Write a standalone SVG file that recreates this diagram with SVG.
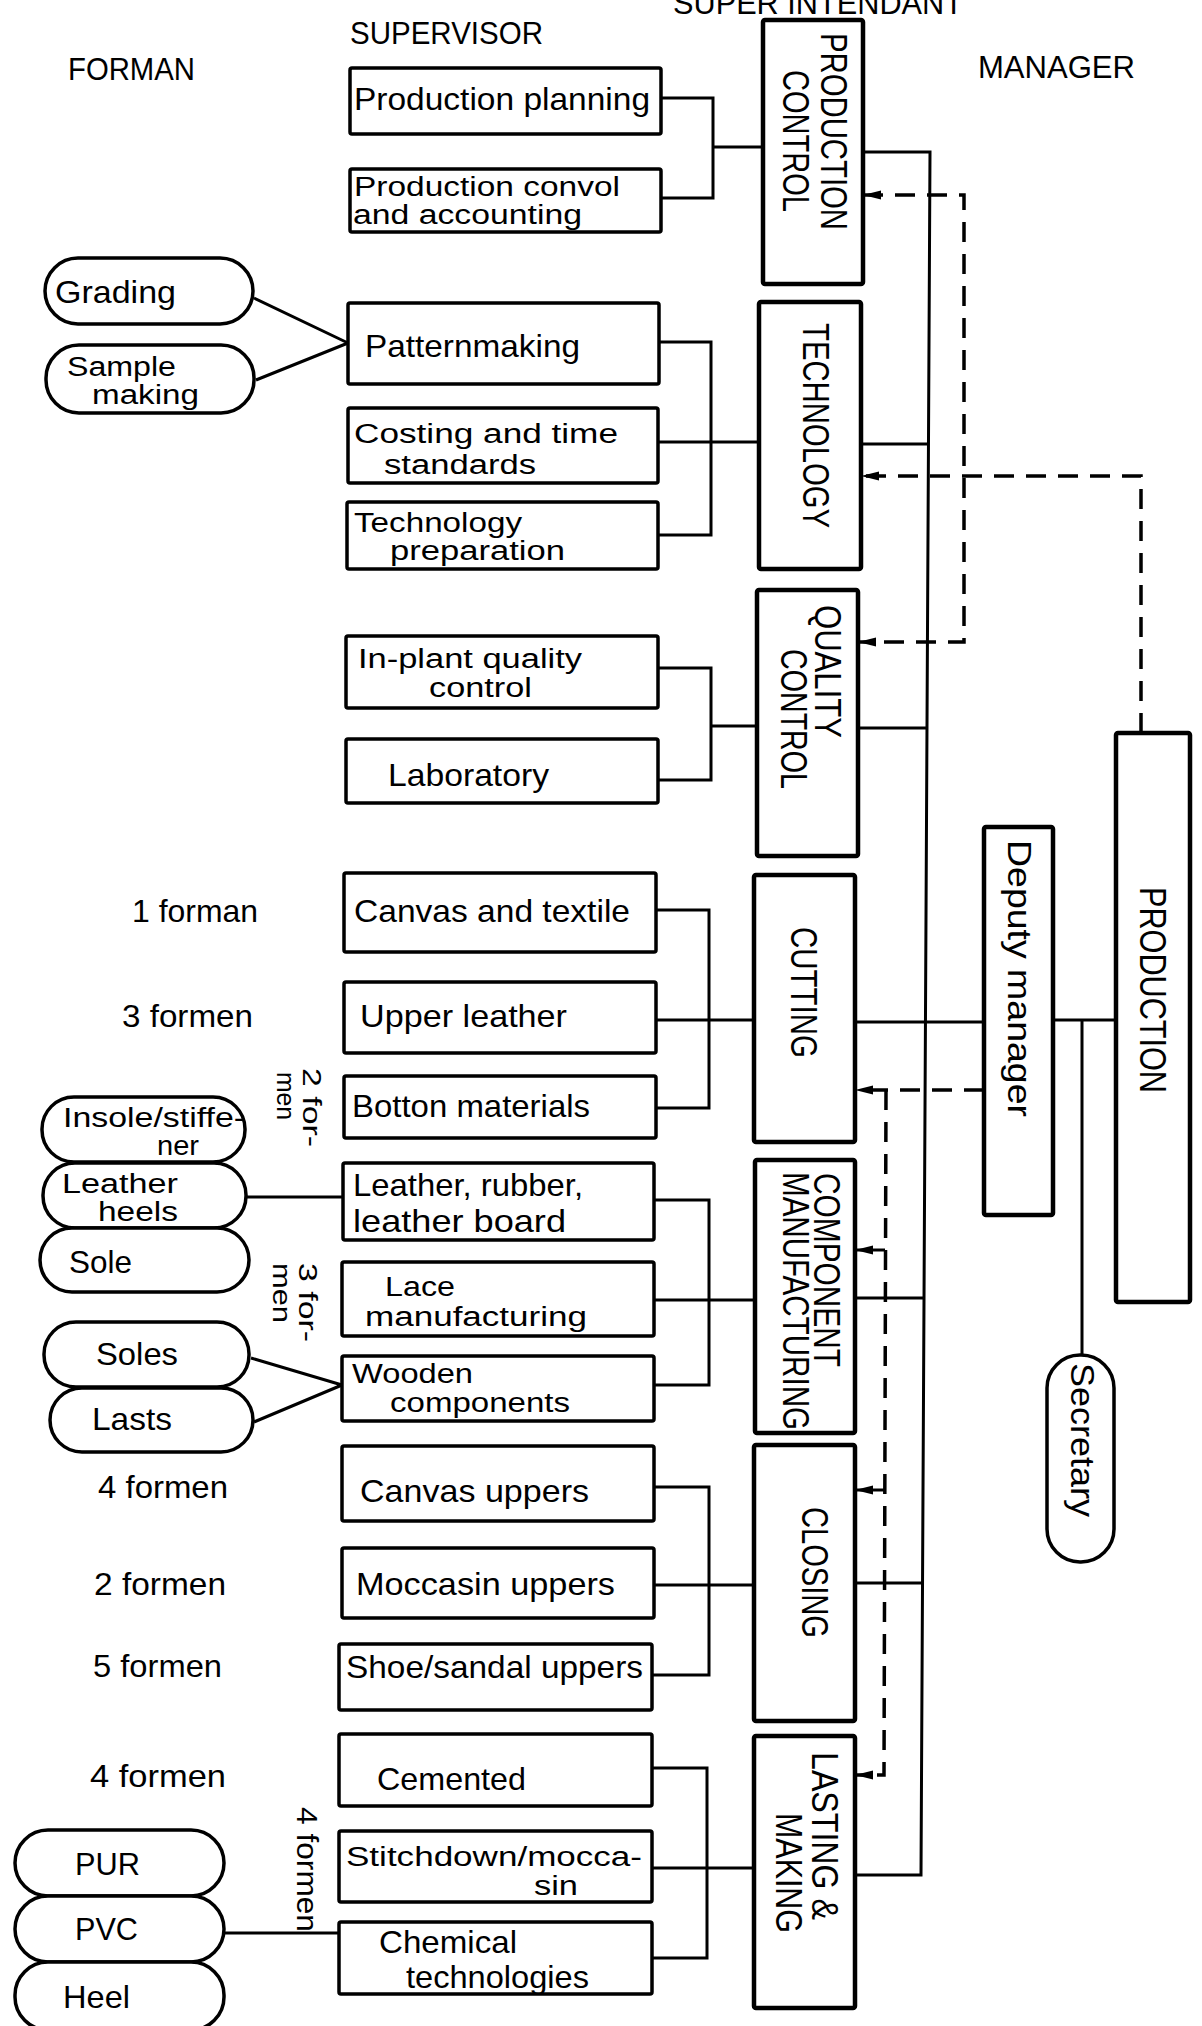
<svg xmlns="http://www.w3.org/2000/svg" width="1202" height="2026" viewBox="0 0 1202 2026">
<defs>
<style>
text{font-family:"Liberation Sans",Arial,sans-serif;fill:#000}
.t{font-size:32px}
.t2{font-size:27px}
.h{font-size:31px}
.r{font-size:36px}
.rs{font-size:25px}
.box{fill:#fff;stroke:#000;stroke-width:3.5}
.big{fill:#fff;stroke:#000;stroke-width:4.5}
.pill{fill:#fff;stroke:#000;stroke-width:3.5}
.ln{fill:none;stroke:#000;stroke-width:3}
.dash{fill:none;stroke:#000;stroke-width:3.5;stroke-dasharray:20 12}
</style>
<marker id="arr" markerUnits="userSpaceOnUse" markerWidth="18" markerHeight="12" refX="0" refY="6" orient="0" viewBox="0 0 18 12"><path d="M0,6 L18,1.5 L18,10.5 Z" fill="#000"/></marker>
</defs>
<rect width="1202" height="2026" fill="#fff"/>

<g id="headers">
<text class="h" x="68" y="80" textLength="127" lengthAdjust="spacingAndGlyphs">FORMAN</text>
<text class="h" x="350" y="44" textLength="193" lengthAdjust="spacingAndGlyphs">SUPERVISOR</text>
<text class="h" x="673" y="14" textLength="290" lengthAdjust="spacingAndGlyphs">SUPER INTENDANT</text>
<text class="h" x="978" y="78" textLength="157" lengthAdjust="spacingAndGlyphs">MANAGER</text>
</g>

<g id="connectors">
<path class="ln" d="M661 98 H713 V198 H661 M713 147 H763"/>
<path class="ln" d="M659 342 H711 V535 H658 M658 442 H759"/>
<path class="ln" d="M658 668 H711 V780 H658 M711 726 H757"/>
<path class="ln" d="M656 910 H709 V1108 H656 M656 1020 H754"/>
<path class="ln" d="M654 1200 H709 V1385 H654 M654 1300 H755"/>
<path class="ln" d="M654 1487 H709 V1675 H652 M654 1585 H754"/>
<path class="ln" d="M652 1768 H707 V1958 H652 M652 1868 H754"/>
<path class="ln" d="M254 298 L348 343 M256 380 L348 343"/>
<path class="ln" d="M246 1197 H343"/>
<path class="ln" d="M251 1358 L342 1385 M254 1422 L342 1385"/>
<path class="ln" d="M224 1933 H339"/>
<path class="ln" d="M863 152 H930 L921 1875 H855"/>
<path class="ln" d="M861 444 H928.5"/>
<path class="ln" d="M858 728 H927"/>
<path class="ln" d="M855 1022 H984"/>
<path class="ln" d="M855 1298 H924"/>
<path class="ln" d="M855 1583 H922.5"/>
<path class="ln" d="M1053 1020 H1116 M1082 1020 V1355"/>
<path class="dash" d="M863 195 H964 V642 H858" marker-start="url(#arr)" marker-end="url(#arr)"/>
<path class="dash" d="M1141 733 V476 H861" marker-end="url(#arr)"/>
<path class="dash" d="M984 1090 H855" marker-end="url(#arr)"/>
<path class="dash" d="M886 1090 L884 1775 H855" marker-end="url(#arr)"/>
<path class="ln" d="M885 1250 H855" marker-end="url(#arr)"/>
<path class="ln" d="M885 1490 H855" marker-end="url(#arr)"/>
</g>

<g id="prod-planning"><rect class="box" x="350" y="68" width="311" height="66" rx="2"/><text class="t" x="354" y="110" textLength="296" lengthAdjust="spacingAndGlyphs">Production planning</text></g>
<g id="prod-convol"><rect class="box" x="350" y="169" width="311" height="63" rx="2"/><text class="t2" x="354" y="196" textLength="266" lengthAdjust="spacingAndGlyphs">Production convol</text><text class="t2" x="353" y="224" textLength="229" lengthAdjust="spacingAndGlyphs">and accounting</text></g>
<g id="patternmaking"><rect class="box" x="348" y="303" width="311" height="81" rx="2"/><text class="t" x="365" y="357" textLength="215" lengthAdjust="spacingAndGlyphs">Patternmaking</text></g>
<g id="costing"><rect class="box" x="348" y="408" width="310" height="75" rx="2"/><text class="t2" x="354" y="443" textLength="264" lengthAdjust="spacingAndGlyphs">Costing and time</text><text class="t2" x="384" y="474" textLength="152" lengthAdjust="spacingAndGlyphs">standards</text></g>
<g id="tech-prep"><rect class="box" x="347" y="502" width="311" height="67" rx="2"/><text class="t2" x="354" y="532" textLength="168" lengthAdjust="spacingAndGlyphs">Technology</text><text class="t2" x="390" y="560" textLength="175" lengthAdjust="spacingAndGlyphs">preparation</text></g>
<g id="inplant"><rect class="box" x="346" y="636" width="312" height="72" rx="2"/><text class="t2" x="358" y="668" textLength="224" lengthAdjust="spacingAndGlyphs">In-plant quality</text><text class="t2" x="429" y="697" textLength="103" lengthAdjust="spacingAndGlyphs">control</text></g>
<g id="laboratory"><rect class="box" x="346" y="739" width="312" height="64" rx="2"/><text class="t" x="388" y="786" textLength="161" lengthAdjust="spacingAndGlyphs">Laboratory</text></g>
<g id="canvas-textile"><rect class="box" x="344" y="873" width="312" height="79" rx="2"/><text class="t" x="354" y="922" textLength="276" lengthAdjust="spacingAndGlyphs">Canvas and textile</text></g>
<g id="upper-leather"><rect class="box" x="344" y="982" width="312" height="71" rx="2"/><text class="t" x="360" y="1027" textLength="207" lengthAdjust="spacingAndGlyphs">Upper leather</text></g>
<g id="botton"><rect class="box" x="344" y="1076" width="312" height="62" rx="2"/><text class="t" x="352" y="1117" textLength="238" lengthAdjust="spacingAndGlyphs">Botton materials</text></g>
<g id="leather-rubber"><rect class="box" x="343" y="1163" width="311" height="77" rx="2"/><text class="t" x="353" y="1196" textLength="230" lengthAdjust="spacingAndGlyphs">Leather, rubber,</text><text class="t" x="353" y="1232" textLength="213" lengthAdjust="spacingAndGlyphs">leather board</text></g>
<g id="lace"><rect class="box" x="342" y="1262" width="312" height="74" rx="2"/><text class="t2" x="385" y="1296" textLength="70" lengthAdjust="spacingAndGlyphs">Lace</text><text class="t2" x="365" y="1326" textLength="222" lengthAdjust="spacingAndGlyphs">manufacturing</text></g>
<g id="wooden"><rect class="box" x="342" y="1356" width="312" height="65" rx="2"/><text class="t2" x="352" y="1383" textLength="121" lengthAdjust="spacingAndGlyphs">Wooden</text><text class="t2" x="390" y="1412" textLength="180" lengthAdjust="spacingAndGlyphs">components</text></g>
<g id="canvas-uppers"><rect class="box" x="342" y="1446" width="312" height="75" rx="2"/><text class="t" x="360" y="1502" textLength="229" lengthAdjust="spacingAndGlyphs">Canvas uppers</text></g>
<g id="moccasin"><rect class="box" x="342" y="1548" width="312" height="70" rx="2"/><text class="t" x="356" y="1595" textLength="259" lengthAdjust="spacingAndGlyphs">Moccasin uppers</text></g>
<g id="shoe-sandal"><rect class="box" x="339" y="1644" width="313" height="66" rx="2"/><text class="t" x="346" y="1678" textLength="297" lengthAdjust="spacingAndGlyphs">Shoe/sandal uppers</text></g>
<g id="cemented"><rect class="box" x="339" y="1734" width="313" height="72" rx="2"/><text class="t" x="377" y="1790" textLength="149" lengthAdjust="spacingAndGlyphs">Cemented</text></g>
<g id="stitchdown"><rect class="box" x="339" y="1831" width="313" height="71" rx="2"/><text class="t2" x="346" y="1866" textLength="296" lengthAdjust="spacingAndGlyphs">Stitchdown/mocca-</text><text class="t2" x="534" y="1895" textLength="44" lengthAdjust="spacingAndGlyphs">sin</text></g>
<g id="chemical"><rect class="box" x="339" y="1922" width="313" height="72" rx="2"/><text class="t" x="379" y="1953" textLength="138" lengthAdjust="spacingAndGlyphs">Chemical</text><text class="t" x="406" y="1988" textLength="183" lengthAdjust="spacingAndGlyphs">technologies</text></g>

<g id="production-control"><rect class="big" x="763" y="20" width="100" height="264" rx="2"/>
<text class="r" transform="translate(821,33) rotate(90)" textLength="197" lengthAdjust="spacingAndGlyphs">PRODUCTION</text>
<text class="r" transform="translate(783,70) rotate(90)" textLength="142" lengthAdjust="spacingAndGlyphs">CONTROL</text></g>
<g id="technology"><rect class="big" x="759" y="302" width="102" height="267" rx="2"/>
<text class="r" transform="translate(803,323) rotate(90)" textLength="205" lengthAdjust="spacingAndGlyphs">TECHNOLOGY</text></g>
<g id="quality-control"><rect class="big" x="757" y="590" width="101" height="266" rx="2"/>
<text class="r" transform="translate(815,605) rotate(90)" textLength="133" lengthAdjust="spacingAndGlyphs">QUALITY</text>
<text class="r" transform="translate(781,649) rotate(90)" textLength="140" lengthAdjust="spacingAndGlyphs">CONTROL</text></g>
<g id="cutting"><rect class="big" x="754" y="875" width="101" height="267" rx="2"/>
<text class="r" transform="translate(791,927) rotate(90)" textLength="131" lengthAdjust="spacingAndGlyphs">CUTTING</text></g>
<g id="component"><rect class="big" x="755" y="1160" width="100" height="273" rx="2"/>
<text class="r" transform="translate(814,1173) rotate(90)" textLength="194" lengthAdjust="spacingAndGlyphs">COMPONENT</text>
<text class="r" transform="translate(783,1172) rotate(90)" textLength="258" lengthAdjust="spacingAndGlyphs">MANUFACTURING</text></g>
<g id="closing"><rect class="big" x="754" y="1445" width="101" height="276" rx="2"/>
<text class="r" transform="translate(802,1507) rotate(90)" textLength="131" lengthAdjust="spacingAndGlyphs">CLOSING</text></g>
<g id="lasting"><rect class="big" x="754" y="1736" width="101" height="272" rx="2"/>
<text class="r" transform="translate(812,1752) rotate(90)" textLength="168" lengthAdjust="spacingAndGlyphs">LASTING &amp;</text>
<text class="r" transform="translate(776,1813) rotate(90)" textLength="120" lengthAdjust="spacingAndGlyphs">MAKING</text></g>

<g id="deputy"><rect class="big" x="984" y="827" width="69" height="388" rx="2"/>
<text class="r" style="font-size:34px" transform="translate(1008,840) rotate(90)" textLength="277" lengthAdjust="spacingAndGlyphs">Deputy  manager</text></g>
<g id="production"><rect class="big" x="1116" y="733" width="74" height="569" rx="2"/>
<text class="r" transform="translate(1140,887) rotate(90)" textLength="206" lengthAdjust="spacingAndGlyphs">PRODUCTION</text></g>
<g id="secretary"><rect class="pill" x="1047" y="1355" width="67" height="207" rx="33"/>
<text class="r" style="font-size:34px" transform="translate(1071,1363) rotate(90)" textLength="154" lengthAdjust="spacingAndGlyphs">Secretary</text></g>

<g id="grading"><rect class="pill" x="45" y="258" width="208" height="66" rx="33"/><text class="t" x="55" y="303" textLength="121" lengthAdjust="spacingAndGlyphs">Grading</text></g>
<g id="sample"><rect class="pill" x="46" y="345" width="208" height="68" rx="33"/><text class="t2" x="67" y="376" textLength="109" lengthAdjust="spacingAndGlyphs">Sample</text><text class="t2" x="92" y="404" textLength="107" lengthAdjust="spacingAndGlyphs">making</text></g>
<g id="insole"><rect class="pill" x="42" y="1097" width="203" height="65" rx="32"/><text class="t2" x="63" y="1127" textLength="182" lengthAdjust="spacingAndGlyphs">Insole/stiffe-</text><text class="t2" x="157" y="1155" textLength="42" lengthAdjust="spacingAndGlyphs">ner</text></g>
<g id="leather-heels"><rect class="pill" x="43" y="1163" width="203" height="65" rx="32"/><text class="t2" x="62" y="1193" textLength="116" lengthAdjust="spacingAndGlyphs">Leather</text><text class="t2" x="98" y="1221" textLength="80" lengthAdjust="spacingAndGlyphs">heels</text></g>
<g id="sole"><rect class="pill" x="40" y="1228" width="209" height="64" rx="32"/><text class="t" x="69" y="1273" textLength="63" lengthAdjust="spacingAndGlyphs">Sole</text></g>
<g id="soles"><rect class="pill" x="44" y="1322" width="205" height="65" rx="32"/><text class="t" x="96" y="1365" textLength="82" lengthAdjust="spacingAndGlyphs">Soles</text></g>
<g id="lasts"><rect class="pill" x="50" y="1388" width="203" height="64" rx="32"/><text class="t" x="92" y="1430" textLength="80" lengthAdjust="spacingAndGlyphs">Lasts</text></g>
<g id="pur"><rect class="pill" x="15" y="1830" width="209" height="66" rx="33"/><text class="t" x="75" y="1875" textLength="65" lengthAdjust="spacingAndGlyphs">PUR</text></g>
<g id="pvc"><rect class="pill" x="15" y="1896" width="209" height="66" rx="33"/><text class="t" x="75" y="1940" textLength="63" lengthAdjust="spacingAndGlyphs">PVC</text></g>
<g id="heel"><rect class="pill" x="15" y="1962" width="209" height="68" rx="33"/><text class="t" x="63" y="2008" textLength="67" lengthAdjust="spacingAndGlyphs">Heel</text></g>

<g id="counts">
<text class="t" x="132" y="922" textLength="126" lengthAdjust="spacingAndGlyphs">1 forman</text>
<text class="t" x="122" y="1027" textLength="131" lengthAdjust="spacingAndGlyphs">3 formen</text>
<text class="t" x="98" y="1498" textLength="130" lengthAdjust="spacingAndGlyphs">4 formen</text>
<text class="t" x="94" y="1595" textLength="132" lengthAdjust="spacingAndGlyphs">2 formen</text>
<text class="t" x="93" y="1677" textLength="129" lengthAdjust="spacingAndGlyphs">5 formen</text>
<text class="t" x="90" y="1787" textLength="136" lengthAdjust="spacingAndGlyphs">4 formen</text>
<text class="rs" transform="translate(303,1068) rotate(90)" textLength="79" lengthAdjust="spacingAndGlyphs">2 for-</text>
<text class="rs" transform="translate(277,1072) rotate(90)" textLength="48" lengthAdjust="spacingAndGlyphs">men</text>
<text class="rs" transform="translate(299,1263) rotate(90)" textLength="79" lengthAdjust="spacingAndGlyphs">3 for-</text>
<text class="rs" transform="translate(273,1263) rotate(90)" textLength="60" lengthAdjust="spacingAndGlyphs">men</text>
<text class="rs" style="font-size:29px" transform="translate(297,1807) rotate(90)" textLength="125" lengthAdjust="spacingAndGlyphs">4 formen</text>
</g>
</svg>
